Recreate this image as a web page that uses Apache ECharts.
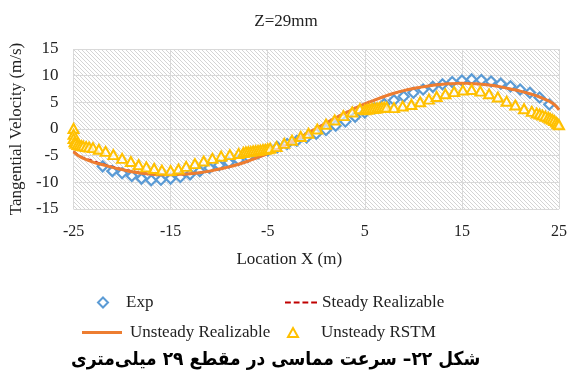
<!DOCTYPE html>
<html>
<head>
<meta charset="utf-8">
<script src="https://cdn.jsdelivr.net/npm/echarts@6/dist/echarts.min.js"></script>
<style>html,body{margin:0;padding:0;background:#fff}#c{width:572px;height:383px}</style>
</head>
<body>
<div id="c"></div>
<script>
// ---- data ----
const titleText = 'Z=29mm';
const captionText = 'شکل ۲۲– سرعت مماسی در مقطع ۲۹ میلی‌متری';
const xAxisName = 'Location X (m)';
const yAxisName = 'Tangential Velocity (m/s)';

const expX = [-22,-21,-20,-19,-18,-17,-16,-15,-14,-13,-12,-11,-10,-9,-8,-7,-6,-5,-4,-3,-2,-1,0,1,2,3,4,5,6,7,8,9,10,11,12,13,14,15,16,17,18,19,20,21,22,23,24];
const expY = [-7.0,-7.9,-8.3,-8.8,-9.3,-9.6,-9.5,-9.3,-9.0,-8.5,-7.9,-7.3,-6.8,-6.3,-5.8,-5.2,-4.6,-4.0,-3.4,-2.8,-2.2,-1.6,-0.9,-0.2,0.6,1.4,2.3,3.1,3.9,4.7,5.4,6.1,6.8,7.4,7.9,8.4,8.8,9.1,9.3,9.2,8.9,8.5,8.0,7.4,6.8,5.9,4.6];

const lineX = [-25,-24.5,-24,-23,-22,-21,-20,-19,-18,-17,-16,-15,-14,-13,-12,-11,-10,-9,-8,-7,-6,-5,-4,-3,-2,-1,0,1,2,3,4,5,6,7,8,9,10,11,12,13,14,15,16,17,18,19,20,21,22,23,24,24.5,25];
const unsteadyRealY = [-4.3,-5.0,-5.5,-6.2,-6.7,-7.2,-7.6,-8.0,-8.3,-8.5,-8.6,-8.6,-8.5,-8.4,-8.2,-7.9,-7.5,-7.1,-6.6,-6.0,-5.3,-4.6,-3.8,-2.9,-1.9,-0.9,0.1,1.1,2.1,3.0,3.9,4.7,5.4,6.1,6.7,7.2,7.6,7.9,8.2,8.4,8.5,8.6,8.5,8.4,8.2,7.9,7.5,7.1,6.6,6.0,5.2,4.6,3.6];
const steadyRealY = [-4.2,-4.9,-5.4,-6.0,-6.6,-7.1,-7.5,-7.9,-8.2,-8.4,-8.5,-8.6,-8.5,-8.4,-8.2,-7.9,-7.5,-7.1,-6.6,-6.0,-5.3,-4.6,-3.8,-2.9,-1.9,-0.9,0.1,1.1,2.1,3.0,3.9,4.7,5.4,6.1,6.7,7.2,7.6,7.9,8.2,8.4,8.5,8.6,8.5,8.4,8.2,7.9,7.5,7.1,6.6,6.0,5.2,4.6,3.7];

const rstmX = [-25.0,-25.0,-25.0,-24.9,-24.8,-24.6,-24.4,-24.2,-24.0,-23.7,-23.4,-23.0,-22.4,-21.7,-20.9,-20.0,-19.1,-18.3,-17.5,-16.7,-15.9,-15.0,-14.2,-13.4,-12.5,-11.6,-10.7,-9.8,-8.9,-8.0,
  -7.5,-7.25,-7.0,-6.75,-6.5,-6.25,-6.0,-5.75,-5.5,-5.25,-5.0,-4.75,
  -4.1,-3.3,-2.5,-1.6,-0.8,0.1,1.0,1.9,2.8,3.7,4.5,
  5.0,5.25,5.5,5.75,6.0,6.25,6.5,6.75,7.0,7.25,
  8.0,8.9,9.8,10.7,11.6,12.4,13.3,14.2,15.1,16.0,16.9,17.8,18.7,19.6,20.5,21.4,22.2,
  22.7,23.0,23.3,23.6,23.9,24.1,24.3,24.5,24.7,24.85,25.0];
const rstmY = [0.1,-1.0,-1.8,-2.4,-2.7,-2.9,-3.0,-3.1,-3.2,-3.3,-3.4,-3.5,-3.8,-4.2,-4.8,-5.5,-6.1,-6.7,-7.1,-7.4,-7.7,-7.8,-7.5,-7.0,-6.5,-6.0,-5.5,-5.1,-4.8,-4.6,
  -4.4,-4.3,-4.25,-4.2,-4.1,-4.05,-4.0,-3.9,-3.85,-3.8,-3.7,-3.6,
  -3.3,-2.7,-2.1,-1.4,-0.8,0.0,0.9,1.7,2.5,3.2,3.8,
  3.6,3.7,3.8,3.85,3.9,3.95,4.0,4.05,4.1,4.1,
  4.0,4.3,4.6,5.1,5.6,6.1,6.6,7.0,7.3,7.4,7.1,6.6,6.0,5.2,4.5,3.8,3.3,
  3.0,2.8,2.6,2.4,2.2,2.0,1.8,1.6,1.3,1.0,0.8];

const xMin = -25, xMax = 25, xStep = 10;
const yMin = -15, yMax = 15, yStep = 5;

// ---- build ----
const zip = (a, b) => a.map((v, i) => [v, b[i]]);

function hatch() {
  const s = 4, c = document.createElement('canvas');
  c.width = s; c.height = s;
  const g = c.getContext('2d');
  g.fillStyle = '#ffffff'; g.fillRect(0, 0, s, s);
  g.strokeStyle = '#cfcfcf'; g.lineWidth = 0.9;
  g.beginPath();
  g.moveTo(-1, -1); g.lineTo(s + 1, s + 1);
  g.moveTo(-1, s - 1); g.lineTo(1, s + 1);
  g.moveTo(s - 1, -1); g.lineTo(s + 1, 1);
  g.stroke();
  return c;
}

const serif = 'Liberation Serif';
const txt = '#222';
const chart = echarts.init(document.getElementById('c'), null, {renderer: 'canvas'});
const lt = (pad) => ({fontFamily: serif, fontSize: 17, color: txt, padding: [0, 0, 0, pad]});
const solidIcon = 'path://M0,0H40V3H0Z';
const dashIcon = 'path://M0,0H6V2H0Z M9,0H15V2H9Z M18,0H24V2H18Z M27,0H33V2H27Z';

chart.setOption({
  animation: false,
  title: [
    {text: titleText, left: 'center', top: 8, textStyle: {fontFamily: serif, fontSize: 17, fontWeight: 'normal', color: txt}},
    {text: captionText, left: 66, top: 346, textStyle: {fontFamily: 'DejaVu Sans Condensed', fontSize: 19, fontWeight: 'bold', color: '#000'}}
  ],
  grid: {left: 73, right: 13, top: 49, bottom: 174, show: true, borderWidth: 0,
         backgroundColor: {image: hatch(), repeat: 'repeat'}},
  legend: [
    {data: ['Exp'], left: 92, top: 289, itemWidth: 10, itemHeight: 10, textStyle: lt(13)},
    {data: [{name: 'Steady Realizable', icon: dashIcon}], left: 280, top: 289, itemWidth: 32, itemHeight: 2, textStyle: lt(0)},
    {data: [{name: 'Unsteady Realizable', icon: solidIcon}], left: 77, top: 319, itemWidth: 40, itemHeight: 3, textStyle: lt(3)},
    {data: ['Unsteady RSTM'], left: 282, top: 319, itemWidth: 10, itemHeight: 9, textStyle: lt(18)}
  ],
  xAxis: {
    type: 'value', min: xMin, max: xMax, interval: xStep,
    name: xAxisName, nameLocation: 'middle', nameGap: 42,
    nameTextStyle: {fontFamily: serif, fontSize: 17, color: txt, padding: [0, 54, 0, 0]},
    axisLine: {show: false}, axisTick: {show: false},
    axisLabel: {fontFamily: serif, fontSize: 16, color: txt, margin: 15},
    splitLine: {show: true, lineStyle: {color: '#d9d9d9', width: 1}}
  },
  yAxis: {
    type: 'value', min: yMin, max: yMax, interval: yStep,
    name: yAxisName, nameLocation: 'middle', nameGap: 46,
    nameTextStyle: {fontFamily: serif, fontSize: 17, color: txt},
    axisLine: {show: false}, axisTick: {show: false},
    axisLabel: {fontFamily: serif, fontSize: 17, color: txt, margin: 15},
    splitLine: {show: true, lineStyle: {color: '#d9d9d9', width: 1}}
  },
  series: [
    {name: 'Exp', type: 'scatter', data: zip(expX, expY), symbol: 'diamond', symbolSize: [10, 10],
     itemStyle: {color: '#ffffff', borderColor: '#5B9BD5', borderWidth: 2.2, opacity: 1}, z: 3},
    {name: 'Steady Realizable', type: 'line', data: zip(lineX, steadyRealY), smooth: true, showSymbol: false, symbol: 'none',
     lineStyle: {color: '#C00000', width: 2, type: [5, 3]}, itemStyle: {color: '#C00000'}, z: 4},
    {name: 'Unsteady Realizable', type: 'line', data: zip(lineX, unsteadyRealY), smooth: true, showSymbol: false, symbol: 'none',
     lineStyle: {color: '#ED7D31', width: 3}, itemStyle: {color: '#ED7D31'}, z: 5},
    {name: 'Unsteady RSTM', type: 'scatter', data: zip(rstmX, rstmY), symbol: 'triangle', symbolSize: [10, 9],
     itemStyle: {color: 'rgba(255,255,255,0.6)', borderColor: '#FFC000', borderWidth: 2, opacity: 1}, z: 6}
  ]
});
</script>
</body>
</html>
